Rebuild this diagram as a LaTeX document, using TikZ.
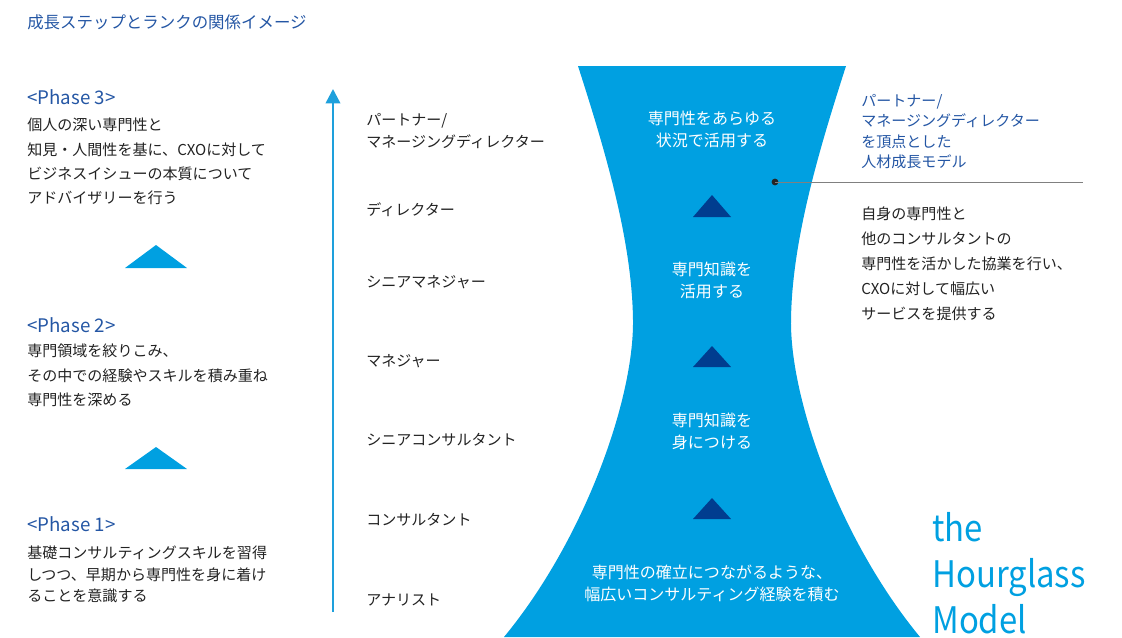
\documentclass[tikz,border=0pt]{standalone}
\usepackage{fontspec}
\setmainfont{Noto Sans CJK JP}
\newfontfamily\modelfont[FakeStretch=0.9]{Noto Sans CJK JP}
\usetikzlibrary{arrows.meta}
\definecolor{glassblue}{RGB}{0,160,225}
\definecolor{deepblue}{RGB}{0,61,143}
\definecolor{headblue}{RGB}{36,86,164}
\definecolor{bodygray}{RGB}{34,34,34}
\definecolor{axisblue}{RGB}{30,160,220}

\begin{document}
\begin{tikzpicture}[
    body/.style={anchor=west, inner sep=0pt, align=left, text=bodygray, font=\fontsize{10.7}{17.3}\selectfont},
    phase/.style={anchor=west, inner sep=0pt, text=headblue, font=\fontsize{13.3}{15}\selectfont},
    rank/.style={anchor=west, inner sep=0pt, align=left, text=bodygray, font=\fontsize{10.7}{15.6}\selectfont},
    stage/.style={inner sep=0pt, align=center, text=white, font=\fontsize{11.4}{15.6}\selectfont},
    axis/.style={draw=axisblue, line width=1.8pt, -{Triangle[length=0.36cm, width=0.36cm]}},
    dotmark/.style={circle, fill=black!85, inner sep=0pt, minimum size=0.17cm},
    leader/.style={draw=gray, line width=0.7pt},
  ]
      \useasboundingbox (0.0, 0.0) rectangle (28.05, -15.925);

      % title
      \node[phase, font=\fontsize{11.7}{14}\selectfont] (title) at (0.675, -0.55) {成長ステップとランクの関係イメージ};

      % phases
      \node[phase] (ph3) at (0.675, -2.425) {<Phase 3>};
      \node[body] (ph3text) at (0.675, -4.0375) {個人の深い専門性と\\知見・人間性を基に、CXOに対して\\ビジネスイシューの本質について\\アドバイザリーを行う};
      \fill[glassblue] (3.125, -6.7) -- (3.9, -6.125) -- (4.675, -6.7) -- cycle;

      \node[phase] (ph2) at (0.675, -8.125) {<Phase 2>};
      \node[body, font=\fontsize{10.7}{17.4}\selectfont] (ph2text) at (0.675, -9.3875) {専門領域を絞りこみ、\\その中での経験やスキルを積み重ね\\専門性を深める};
      \fill[glassblue] (3.125, -11.725) -- (3.9, -11.175) -- (4.675, -11.725) -- cycle;

      \node[phase] (ph1) at (0.675, -13.1) {<Phase 1>};
      \node[body, font=\fontsize{10.7}{15.3}\selectfont] (ph1text) at (0.675, -14.3625) {基礎コンサルティングスキルを習得\\しつつ、早期から専門性を身に着け\\ることを意識する};

      % ranks
      \coordinate (axisbot) at (8.325, -15.3);
      \coordinate (axistop) at (8.325, -2.225);
      \draw[axis] (axisbot) -- (axistop);

      \node[rank] (partner) at (9.15, -3.275) {パートナー/\\マネージングディレクター};
      \node[rank] (director) at (9.15, -5.25) {ディレクター};
      \node[rank] (srmgr) at (9.15, -7.05) {シニアマネジャー};
      \node[rank] (mgr) at (9.15, -9.025) {マネジャー};
      \node[rank] (srcons) at (9.15, -11.0) {シニアコンサルタント};
      \node[rank] (cons) at (9.15, -13.0) {コンサルタント};
      \node[rank] (analyst) at (9.15, -15.0) {アナリスト};

      % hourglass
      \fill[glassblue] (14.45, -1.65) .. controls (15.125, -3.75) and (15.8, -6.0) .. (15.825, -8.0)
          .. controls (15.85, -10.0) and (14.6, -13.5) .. (12.6, -15.925)
          -- (23.0, -15.925) .. controls (21.0, -13.5) and (19.75, -10.0) .. (19.775, -8.0)
          .. controls (19.8, -6.0) and (20.475, -3.75) .. (21.15, -1.65) -- cycle;

      \node[stage] (st4) at (17.8, -3.225) {専門性をあらゆる\\状況で活用する};
      \node[stage] (st3) at (17.8, -7.0125) {専門知識を\\活用する};
      \node[stage] (st2) at (17.8, -10.775) {専門知識を\\身につける};
      \node[stage] (st1) at (17.8, -14.575) {専門性の確立につながるような、\\幅広いコンサルティング経験を積む};

      \fill[deepblue] (17.325, -5.425) -- (17.8, -4.875) -- (18.275, -5.425) -- cycle;
      \fill[deepblue] (17.325, -9.175) -- (17.8, -8.65) -- (18.275, -9.175) -- cycle;
      \fill[deepblue] (17.325, -12.975) -- (17.8, -12.45) -- (18.275, -12.975) -- cycle;

      % model notes
      \node[dotmark] (apex) at (19.375, -4.55) {};
      \coordinate (leaderend) at (27.075, -4.55);
      \draw[leader] (apex.center) -- (leaderend);

      \node[rank, text=headblue, font=\fontsize{10.7}{14.5}\selectfont] (topnote) at (21.525, -3.2875) {パートナー/\\マネージングディレクター\\を頂点とした\\人材成長モデル};
      \node[body, font=\fontsize{10.7}{17.8}\selectfont] (collab) at (21.525, -6.6) {自身の専門性と\\他のコンサルタントの\\専門性を活かした協業を行い、\\CXOに対して幅広い\\サービスを提供する};

      \node[anchor=south west, inner sep=0pt, align=left, text=glassblue, font=\modelfont\fontsize{26}{32.7}\selectfont] (model) at (23.3, -15.85) {the\\Hourglass\\Model};
    \end{tikzpicture}
\end{document}
